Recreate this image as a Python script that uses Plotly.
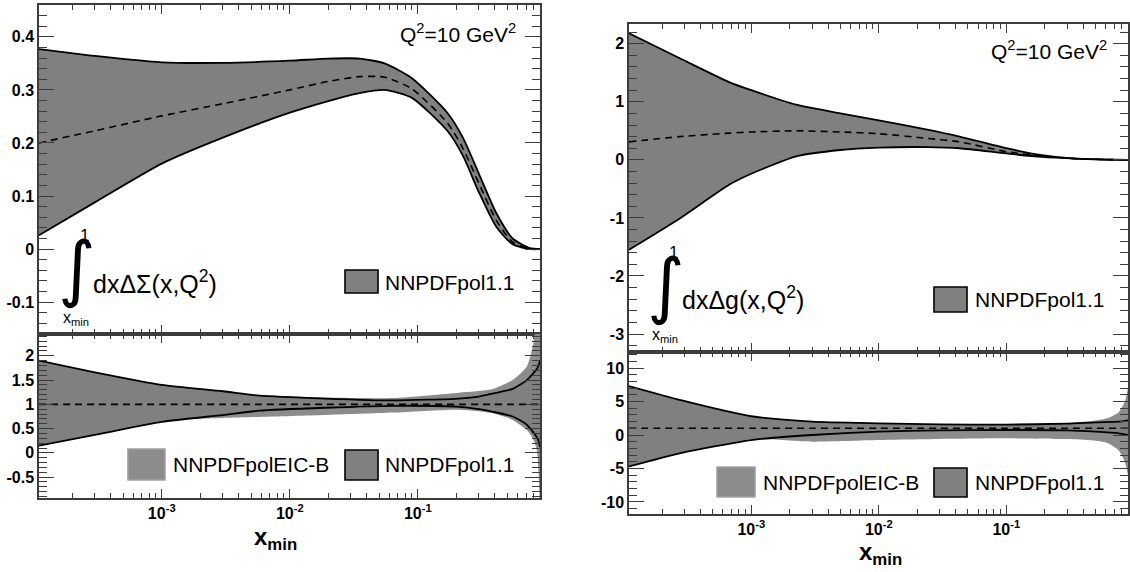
import math
import plotly.graph_objects as go

W, H = 1130, 572

# ------------------------- data -------------------------
# Left top: integral of Delta Sigma, NNPDFpol1.1
sig_x = [1.1e-4, 3e-4, 1e-3, 3e-3, 1e-2, 2e-2, 0.035, 0.055, 0.09, 0.17, 0.225, 0.3, 0.41, 0.55, 0.75, 0.9]
sig_c = [0.20, 0.223, 0.251, 0.274, 0.30, 0.316, 0.325, 0.324, 0.302, 0.238, 0.19, 0.124, 0.054, 0.013, 0.001, 0.0]
sig_up = [0.377, 0.364, 0.352, 0.351, 0.355, 0.359, 0.359, 0.350, 0.322, 0.257, 0.21, 0.142, 0.068, 0.02, 0.002, 0.0]
sig_lo = [0.026, 0.088, 0.161, 0.21, 0.257, 0.279, 0.294, 0.300, 0.285, 0.223, 0.176, 0.107, 0.042, 0.009, 0.0, 0.0]

# Left bottom: ratio to NNPDFpol1.1 central
sigr_x = [1.1e-4, 3e-4, 1e-3, 3e-3, 5.8e-3, 0.019, 0.064, 0.21, 0.3, 0.38, 0.55, 0.71, 0.86, 0.9]
sigr_up = [1.90, 1.66, 1.40, 1.27, 1.18, 1.12, 1.08, 1.12, 1.16, 1.22, 1.32, 1.50, 1.75, 1.90]
sigr_lo = [0.15, 0.37, 0.64, 0.78, 0.87, 0.93, 0.97, 0.95, 0.90, 0.85, 0.75, 0.58, 0.30, 0.12]
sigr_one = [1.0] * len(sigr_x)
sigeic_x = [1.1e-4, 1e-3, 3e-3, 5.8e-3, 0.019, 0.064, 0.21, 0.38, 0.55, 0.71, 0.79, 0.85, 0.9]
sigeic_up = [1.50, 1.25, 1.19, 1.18, 1.14, 1.13, 1.24, 1.31, 1.50, 1.78, 2.19, 2.80, 3.20]
sigeic_lo = [0.50, 0.68, 0.72, 0.74, 0.78, 0.83, 0.89, 0.82, 0.68, 0.47, 0.30, 0.06, -1.20]

# Right top: integral of Delta g, NNPDFpol1.1
g_x = [1.1e-4, 2.75e-4, 6.7e-4, 1e-3, 2.25e-3, 5e-3, 1e-2, 0.024, 0.043, 0.1, 0.19, 0.35, 0.6, 0.9]
g_c = [0.31, 0.40, 0.46, 0.48, 0.50, 0.48, 0.45, 0.37, 0.31, 0.14, 0.065, 0.02, 0.005, 0.0]
g_up = [2.18, 1.75, 1.34, 1.20, 0.95, 0.80, 0.68, 0.52, 0.40, 0.20, 0.08, 0.02, 0.005, 0.0]
g_lo = [-1.55, -1.01, -0.43, -0.24, 0.06, 0.17, 0.21, 0.22, 0.20, 0.11, 0.05, 0.02, 0.005, 0.0]

# Right bottom: ratio to NNPDFpol1.1 central
gr_x = [1.1e-4, 2.8e-4, 1e-3, 3e-3, 1e-2, 0.03, 0.1, 0.3, 0.5, 0.76, 0.9]
gr_up = [7.3, 5.2, 2.8, 2.0, 1.75, 1.6, 1.55, 1.7, 1.9, 2.0, 2.2]
gr_lo = [-4.7, -2.7, -0.75, 0.0, 0.5, 0.7, 0.75, 0.7, 0.5, 0.25, 0.0]
gr_one = [1.0] * len(gr_x)
geic_x = [1.1e-4, 1e-3, 3e-3, 1e-2, 0.03, 0.1, 0.3, 0.47, 0.62, 0.76, 0.85, 0.9]
geic_up = [5.0, 2.2, 1.8, 1.6, 1.6, 1.6, 1.8, 2.1, 2.5, 3.4, 5.0, 7.0]
geic_lo = [-3.0, -0.6, -1.0, -0.75, -0.6, -0.5, -0.6, -0.8, -1.2, -2.3, -4.0, -6.0]

x_ticks = [1e-3, 1e-2, 1e-1]
x_ticktext = ["10<sup>-3</sup>", "10<sup>-2</sup>", "10<sup>-1</sup>"]
y1_ticks = [-0.1, 0, 0.1, 0.2, 0.3, 0.4]
y1_text = ["-0.1", "0", "0.1", "0.2", "0.3", "0.4"]
y2_ticks = [-0.5, 0, 0.5, 1, 1.5, 2]
y2_text = ["-0.5", "0", "0.5", "1", "1.5", "2"]
y3_ticks = [-3, -2, -1, 0, 1, 2]
y3_text = ["-3", "-2", "-1", "0", "1", "2"]
y4_ticks = [-10, -5, 0, 5, 10]
y4_text = ["-10", "-5", "0", "5", "10"]
label_pol = "NNPDFpol1.1"
label_eic = "NNPDFpolEIC-B"
q2_text = "Q<sup>2</sup>=10 GeV<sup>2</sup>"

# ------------------------- style -------------------------
FONT = "Liberation Sans"
C_POL = "#808080"
C_EIC = "#8c8c8c"
C_EIC_EDGE = "#a0a0a0"
AXC = "#3c3c3c"


def px(x):
    return x / W


def py(y):
    return 1 - y / H


fig = go.Figure()
SM = 0.6


def band(x, lo, up, xa, ya, color):
    fig.add_trace(go.Scatter(x=x, y=lo, mode="lines", line=dict(width=0, shape="spline", smoothing=SM),
                             xaxis=xa, yaxis=ya, showlegend=False, hoverinfo="skip"))
    fig.add_trace(go.Scatter(x=x, y=up, mode="lines", line=dict(width=0, shape="spline", smoothing=SM),
                             fill="tonexty", fillcolor=color, xaxis=xa, yaxis=ya,
                             showlegend=False, hoverinfo="skip"))


def line(x, y, xa, ya, dash="solid", width=1.8):
    fig.add_trace(go.Scatter(x=x, y=y, mode="lines",
                             line=dict(color="black", width=width, dash=dash, shape="spline", smoothing=SM),
                             xaxis=xa, yaxis=ya, showlegend=False, hoverinfo="skip"))


DASH = "7px,5px"
# left top
band(sig_x, sig_lo, sig_up, "x", "y", C_POL)
line(sig_x, sig_up, "x", "y")
line(sig_x, sig_lo, "x", "y")
line(sig_x, sig_c, "x", "y", dash=DASH, width=1.6)
# left bottom
band(sigeic_x, sigeic_lo, sigeic_up, "x2", "y2", C_EIC)
band(sigr_x, sigr_lo, sigr_up, "x2", "y2", C_POL)
line(sigr_x, sigr_up, "x2", "y2")
line(sigr_x, sigr_lo, "x2", "y2")
line(sigr_x, sigr_one, "x2", "y2", dash=DASH, width=1.6)
# right top
band(g_x, g_lo, g_up, "x3", "y3", C_POL)
line(g_x, g_up, "x3", "y3")
line(g_x, g_lo, "x3", "y3")
line(g_x, g_c, "x3", "y3", dash=DASH, width=1.6)
# right bottom
band(geic_x, geic_lo, geic_up, "x4", "y4", C_EIC)
band(gr_x, gr_lo, gr_up, "x4", "y4", C_POL)
line(gr_x, gr_up, "x4", "y4")
line(gr_x, gr_lo, "x4", "y4")
line(gr_x, gr_one, "x4", "y4", dash=DASH, width=1.6)

xminor = [m * 10 ** e for e in range(-4, 0) for m in range(2, 10) if 1.1e-4 <= m * 10 ** e <= 0.9]
XR = [math.log10(1.1e-4), math.log10(0.9)]
ytickfont = dict(family=FONT, size=16, color="black", weight="bold")
xtickfont = dict(family=FONT, size=16, color="black", weight="bold")


def xaxis(domain, anchor, labels):
    return dict(type="log", domain=domain, anchor=anchor, range=XR, automargin=False,
                tickmode="array", tickvals=x_ticks, ticktext=x_ticktext,
                showticklabels=labels, ticks="inside", ticklen=9, tickwidth=1.2, tickcolor=AXC,
                minor=dict(tickmode="array", tickvals=xminor, ticks="inside", ticklen=5, tickwidth=1.2, tickcolor=AXC),
                showline=True, linecolor=AXC, linewidth=1.5, mirror="allticks",
                showgrid=False, zeroline=False, tickfont=xtickfont, fixedrange=True)


def yaxis(domain, anchor, rng, tv, tt, mdt):
    n0 = math.floor(rng[0] / mdt)
    n1 = math.ceil(rng[1] / mdt)
    mv = [round(k * mdt, 6) for k in range(n0, n1 + 1)]
    return dict(domain=domain, anchor=anchor, range=rng, automargin=False,
                tickmode="array", tickvals=tv, ticktext=tt,
                ticks="inside", ticklen=15, tickwidth=1.2, tickcolor=AXC,
                minor=dict(tickmode="array", tickvals=mv, ticks="inside", ticklen=8, tickwidth=1.2, tickcolor=AXC),
                showline=True, linecolor=AXC, linewidth=1.5, mirror="allticks",
                showgrid=False, zeroline=False, tickfont=ytickfont, fixedrange=True)


LX = [px(39), px(540)]
RX = [px(629), px(1128)]
fig.update_layout(
    width=W, height=H, margin=dict(l=0, r=0, t=0, b=0),
    paper_bgcolor="white", plot_bgcolor="white",
    font=dict(family=FONT, color="black"),
    xaxis=xaxis(LX, "y", False),
    yaxis=yaxis([py(334), py(5)], "x", [-0.16, 0.46], y1_ticks, y1_text, 0.02),
    xaxis2=xaxis(LX, "y2", True),
    yaxis2=yaxis([py(498), py(334)], "x2", [-0.93, 2.45], y2_ticks, y2_text, 0.1),
    xaxis3=xaxis(RX, "y3", False),
    yaxis3=yaxis([py(352), py(24)], "x3", [-3.31, 2.34], y3_ticks, y3_text, 0.2),
    xaxis4=xaxis(RX, "y4", True),
    yaxis4=yaxis([py(514), py(352)], "x4", [-11.8, 12.4], y4_ticks, y4_text, 1),
)

ann = []
shapes = []


def text(x, y, s, size, xanchor="left", yanchor="middle", family=FONT):
    ann.append(dict(x=px(x), y=py(y), xref="paper", yref="paper", text=s, showarrow=False,
                    xanchor=xanchor, yanchor=yanchor, font=dict(family=family, size=size, color="black")))


def legbox(x0, y0, x1, y1, fill, edge):
    shapes.append(dict(type="rect", xref="paper", yref="paper", x0=px(x0), x1=px(x1), y0=py(y1), y1=py(y0),
                       fillcolor=fill, line=dict(color=edge, width=1.6)))


# Q2 labels
text(518, 33, q2_text, 21, xanchor="right")
text(1109, 50, q2_text, 21, xanchor="right")

# integral labels
text(77, 268, "∫", 72, xanchor="center", family="DejaVu Sans")
text(84, 235, "1", 17, xanchor="center")
text(76, 318, "x<sub>min</sub>", 16, xanchor="center")
text(91, 282, "dxΔΣ(x,Q<sup>2</sup>)", 25)

text(666, 285, "∫", 72, xanchor="center", family="DejaVu Sans")
text(673, 252, "1", 17, xanchor="center")
text(665, 335, "x<sub>min</sub>", 16, xanchor="center")
text(680, 298, "dxΔg(x,Q<sup>2</sup>)", 25)

# legends
legbox(345, 270, 378, 293, C_POL, "black")
text(383, 282, label_pol, 21)
legbox(128, 449, 165, 480, C_EIC, C_EIC_EDGE)
text(171, 464, label_eic, 21)
legbox(345, 450, 378, 480, C_POL, "black")
text(383, 464, label_pol, 21)

legbox(934, 287, 967, 312, C_POL, "black")
text(973, 299, label_pol, 21)
legbox(717, 467, 755, 497, C_EIC, C_EIC_EDGE)
text(761, 482, label_eic, 21)
legbox(934, 468, 967, 497, C_POL, "black")
text(973, 482, label_pol, 21)

# axis titles
xtitle = "<b>x</b><sub><b>min</b></sub>"
text(275, 538, xtitle, 24, xanchor="center")
text(880, 553, xtitle, 24, xanchor="center")

fig.update_layout(annotations=ann, shapes=shapes)
fig.write_html("out.html", config={"displayModeBar": False},
               post_script="document.body.style.margin='0';document.body.style.overflow='hidden';")
